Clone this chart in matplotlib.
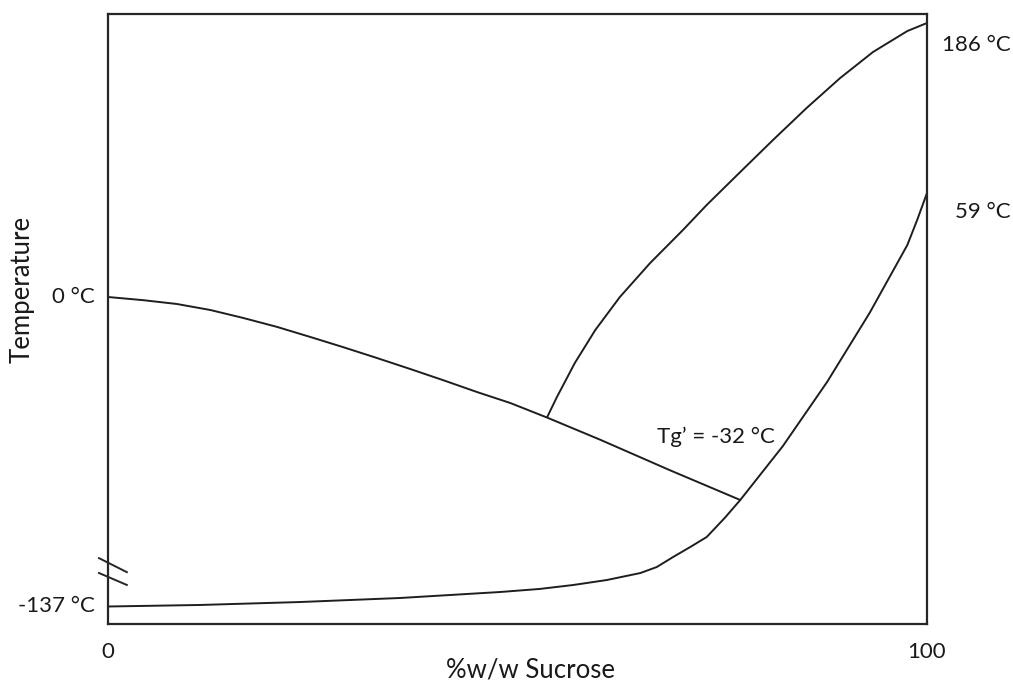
import numpy as np
import matplotlib
matplotlib.use("Agg")
import matplotlib.pyplot as plt
from matplotlib.scale import FuncScale

plt.rcParams['font.family'] = ['Lato', 'DejaVu Sans']

# --- state diagram of sucrose / water (schematic) ---
# freezing (ice melting) curve
freeze_x = [0, 4.3, 8.4, 12.5, 16.5, 20.6, 24.7, 28.7, 32.8, 36.9, 40.9,
            45.1, 49.1, 53.6, 60.1, 68.6, 77.2]
freeze_t = [0, -0.5, -1.1, -2.05, -3.3, -4.7, -6.3, -7.9, -9.6, -11.35,
            -13.1, -15.0, -16.7, -19.0, -22.5, -27.3, -32]

# glass transition curve
glass_x = [0, 11.2, 23.4, 35.7, 47.9, 52.7, 56.8, 60.9, 65.0, 67.0, 69.0,
           71.1, 73.1, 75.3, 77.2, 82.4, 87.8, 93.0, 97.6, 98.8, 100]
glass_t = [-137, -135.5, -132.6, -128.6, -122.7, -119.7, -115.8, -110.9,
           -104.0, -98.1, -88.2, -78.3, -68.5, -49.7, -32, -23.5, -13.4,
           -2.5, 29.5, 43.7, 59]

# solubility curve
solub_x = [53.6, 54.8, 57.0, 59.5, 62.5, 66.2, 70.2, 73.1, 77.2, 81.2,
           85.3, 89.4, 93.4, 97.6, 100]
solub_t = [-19.0, -15.8, -10.4, -5.2, 0.0, 19.3, 38.0, 52.2, 74.7, 98.6,
           122.5, 144.9, 164.3, 180.0, 186]

x_ticks = [0, 100]
x_tick_labels = ["0", "100"]

# broken, non-linear temperature axis: piecewise-linear mapping
scale_t = [-154.3, -137, -32, 0, 59, 186, 192.7]
scale_pos = [0, 17.5, 124, 327, 431, 601, 610]


def fwd(t):
    return np.interp(t, scale_t, scale_pos)


def inv(p):
    return np.interp(p, scale_pos, scale_t)


fig = plt.figure(figsize=(10.13, 6.84), dpi=100)
ax = fig.add_axes([108 / 1013, 60 / 684, 819 / 1013, 610 / 684])
ax.set_yscale(FuncScale(ax.yaxis, (fwd, inv)))
ax.set_xlim(0, 100)
ax.set_ylim(scale_t[0], scale_t[-1])

line_kw = dict(color='#1e1e1e', lw=1.4, solid_capstyle='butt',
               solid_joinstyle='round')
ax.plot(freeze_x, freeze_t, **line_kw)
ax.plot(glass_x, glass_t, **line_kw)
ax.plot(solub_x, solub_t, **line_kw)

for sp in ax.spines.values():
    sp.set_linewidth(1.6)
    sp.set_color('#262626')

ax.set_xticks(x_ticks)
ax.set_xticklabels(x_tick_labels)
ax.set_yticks([])
ax.tick_params(axis='x', length=0, pad=13, labelsize=16, labelcolor='#1a1a1a')
ax.yaxis.set_minor_locator(matplotlib.ticker.NullLocator())

txt = dict(fontsize=16, color='#1a1a1a', textcoords='offset pixels',
           annotation_clip=False)
ax.annotate("0 °C", xy=(0, 0), xytext=(-13, 0), ha='right', va='center', **txt)
ax.annotate("-137 °C", xy=(0, -137), xytext=(-13, 0), ha='right', va='center', **txt)
ax.annotate("186 °C", xy=(100, 186), xytext=(15, -22), ha='left', va='center', **txt)
ax.annotate("59 °C", xy=(100, 59), xytext=(28, -19), ha='left', va='center', **txt)
ax.annotate("Tg\u2019 = -32 °C", xy=(77.2, -32), xytext=(-83, 63),
            ha='left', va='center', **txt)

# axis break marks
for y0, y1 in [(0.108, 0.085), (0.0836, 0.064)]:
    ax.plot([-0.011, 0.023], [y0, y1], transform=ax.transAxes,
            color='#262626', lw=1.4, clip_on=False)

fig.text(530 / 1013, 1 - 670 / 684, "%w/w Sucrose", ha='center', va='center',
         fontsize=18.5, color='#1a1a1a')
fig.text(22 / 1013, 1 - 289 / 684, "Temperature", ha='center', va='center',
         rotation=90, fontsize=18.5, color='#1a1a1a')

fig.savefig("out.png", dpi=100, facecolor='white')
